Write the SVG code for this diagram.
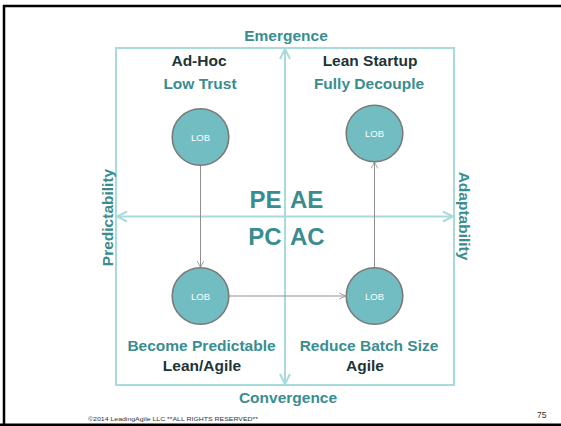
<svg xmlns="http://www.w3.org/2000/svg" width="561" height="426" viewBox="0 0 561 426">
<style>
.t{font-family:"Liberation Sans",Arial,sans-serif;font-weight:bold;text-anchor:middle}
.teal{fill:#3a8d8f}
.dark{fill:#1d3536}
.h{font-size:15.5px}
.big{font-size:24px}
.lob{font-family:"Liberation Sans",Arial,sans-serif;font-size:9.5px;fill:#ffffff;text-anchor:middle}
.node circle{fill:#71bdc2;stroke:#7a7a7a;stroke-width:1.6}
.axis{stroke:#a9dadc;stroke-width:2;fill:none}
.conn{stroke:#8f8f8f;stroke-width:1;fill:none}
</style>
<defs>
<marker id="ah" viewBox="0 0 10 10" refX="9" refY="5" markerWidth="8" markerHeight="8" orient="auto-start-reverse" markerUnits="userSpaceOnUse">
<path d="M1,1 L9,5 L1,9" fill="none" stroke="#8f8f8f" stroke-width="1"/>
</marker>
<marker id="ax" viewBox="0 0 12 12" refX="11" refY="6" markerWidth="12" markerHeight="12" orient="auto-start-reverse" markerUnits="userSpaceOnUse">
<path d="M1,1 L11,6 L1,11" fill="none" stroke="#a9dadc" stroke-width="2"/>
</marker>
</defs>
<rect x="0" y="0" width="561" height="426" fill="#ffffff"/>
<path d="M4,426 V6 H561" fill="none" stroke="#000" stroke-width="2.5"/>
<line x1="0" y1="424.8" x2="561" y2="424.8" stroke="#000" stroke-width="2.5"/>
<g id="frame">
<rect x="116" y="48" width="338" height="337" class="axis"/>
</g>
<g id="axes">
<line x1="285" y1="384" x2="285" y2="49" class="axis" marker-start="url(#ax)" marker-end="url(#ax)"/>
<line x1="117" y1="216.5" x2="453" y2="216.5" class="axis" marker-start="url(#ax)" marker-end="url(#ax)"/>
</g>
<g id="connectors">
<line x1="200.5" y1="165.5" x2="200.5" y2="267.5" class="conn" marker-end="url(#ah)"/>
<line x1="229" y1="296" x2="345.5" y2="296" class="conn" marker-end="url(#ah)"/>
<line x1="374.5" y1="267.5" x2="374.5" y2="162" class="conn" marker-end="url(#ah)"/>
</g>
<g id="node-tl" class="node"><circle cx="200.5" cy="137" r="28.3"/><text class="lob" x="200.5" y="140.5">LOB</text></g>
<g id="node-tr" class="node"><circle cx="374.5" cy="133.5" r="28.3"/><text class="lob" x="374.5" y="137">LOB</text></g>
<g id="node-bl" class="node"><circle cx="200.5" cy="296" r="28.3"/><text class="lob" x="200.5" y="299.5">LOB</text></g>
<g id="node-br" class="node"><circle cx="374.5" cy="296" r="28.3"/><text class="lob" x="374.5" y="299.5">LOB</text></g>
<g id="labels">
<text class="t h teal" x="286" y="41">Emergence</text>
<text class="t h teal" x="288" y="403">Convergence</text>
<text class="t h dark" x="199" y="66">Ad-Hoc</text>
<text class="t h teal" x="200" y="89">Low Trust</text>
<text class="t h dark" x="370" y="66">Lean Startup</text>
<text class="t h teal" x="369" y="89">Fully Decouple</text>
<text class="t h teal" x="201.5" y="351">Become Predictable</text>
<text class="t h dark" x="202" y="371">Lean/Agile</text>
<text class="t h teal" x="369" y="351">Reduce Batch Size</text>
<text class="t h dark" x="365" y="371">Agile</text>
<text class="t big teal" x="281.5" y="208" style="text-anchor:end">PE</text>
<text class="t big teal" x="290" y="208" style="text-anchor:start">AE</text>
<text class="t big teal" x="281.5" y="244.5" style="text-anchor:end">PC</text>
<text class="t big teal" x="290" y="244.5" style="text-anchor:start">AC</text>
<text class="t h teal" transform="translate(112.5,217.5) rotate(-90)">Predictability</text>
<text class="t h teal" transform="translate(458.5,216) rotate(90)">Adaptability</text>
<text x="88" y="420.5" font-family="Liberation Sans,Arial,sans-serif" font-size="6" fill="#333" textLength="170" lengthAdjust="spacingAndGlyphs">©2014 LeadingAgile LLC **ALL RIGHTS RESERVED**</text>
<text x="537" y="418" font-family="Liberation Sans,Arial,sans-serif" font-size="8.5" fill="#333">75</text>
</g>
</svg>
